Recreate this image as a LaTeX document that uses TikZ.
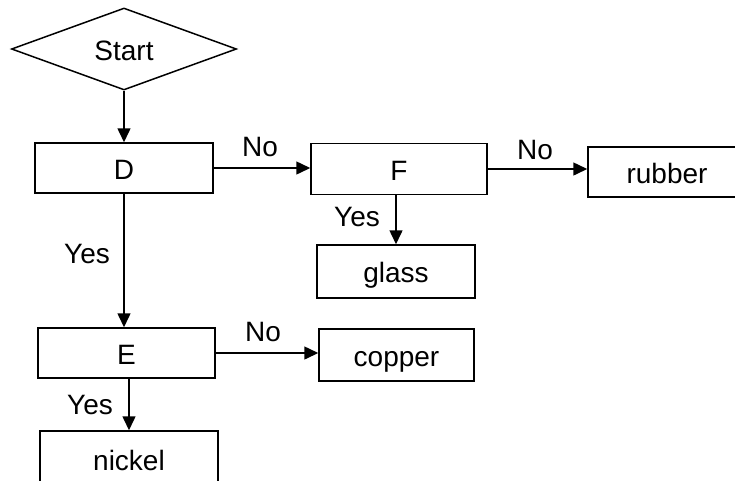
\documentclass[tikz,border=0pt]{standalone}
\usepackage{fontspec}
\setmainfont{Liberation Sans}
\usetikzlibrary{shapes.geometric,arrows.meta}
\begin{document}
\begin{tikzpicture}[x=1pt,y=-1pt,
  every node/.style={font=\fontsize{28}{32}\selectfont},
  box/.style={draw, line width=1.5pt, inner sep=0pt, anchor=center, text height=25pt, text depth=3pt},
  arr/.style={line width=1.5pt, -{Triangle[length=14pt,width=13pt]}},
  lbl/.style={inner sep=0pt}]
\useasboundingbox (0,0) rectangle (735,480);
\clip (0,0) rectangle (735,480);
\node[box, diamond, aspect=2.74, minimum width=225pt, minimum height=82pt] (start) at (124,49) {Start};
\node[box, minimum width=178pt, minimum height=50pt] (D) at (124,168) {D};
\node[box, minimum width=176pt, minimum height=51pt] (F) at (399,169) {F};
\node[box, minimum width=158pt, minimum height=50pt] (rubber) at (667,172) {rubber};
\node[box, minimum width=158pt, minimum height=53pt] (glass) at (396,271.5) {glass};
\node[box, minimum width=177pt, minimum height=50pt] (E) at (126.5,353) {E};
\node[box, minimum width=155pt, minimum height=52pt] (copper) at (396.5,355) {copper};
\node[box, minimum width=178pt, minimum height=56pt] (nickel) at (129,459) {nickel};
\draw[arr] (start.south) -- (D.north);
\draw[arr] (D.east) -- (D.east -| F.west);
\draw[arr] (F.east) -- (F.east -| rubber.west);
\draw[arr] (glass.north |- F.south) -- (glass.north);
\draw[arr] (D.south) -- (D.south |- E.north);
\draw[arr] (E.east) -- (E.east -| copper.west);
\draw[arr] (nickel.north |- E.south) -- (nickel.north);
\node[lbl] (no1) at (260,147) {No};
\node[lbl] (no2) at (535,150) {No};
\node[lbl] (no3) at (263,332) {No};
\node[lbl] (yes1) at (357,217) {Yes};
\node[lbl] (yes2) at (87,254) {Yes};
\node[lbl] (yes3) at (90,405) {Yes};
\end{tikzpicture}
\end{document}
